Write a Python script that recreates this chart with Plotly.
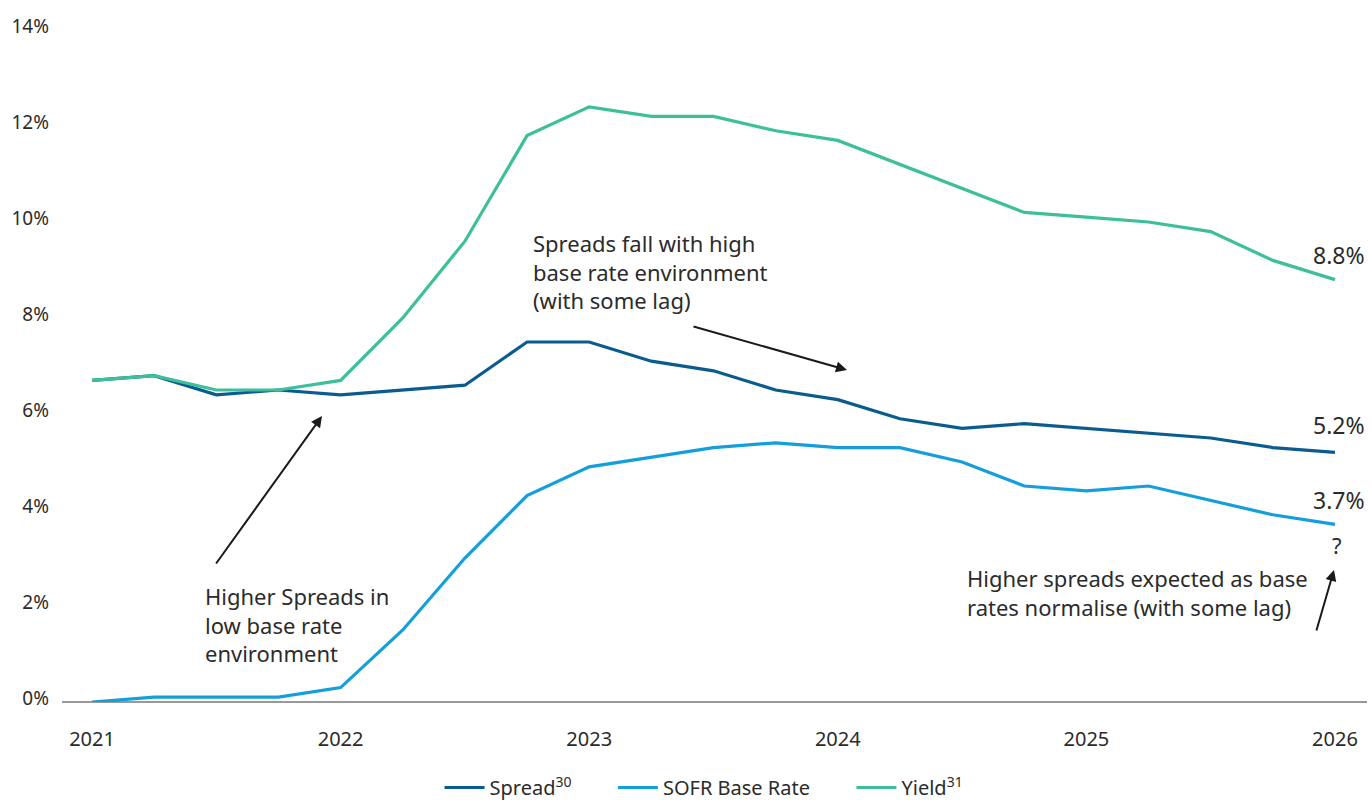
import plotly.graph_objects as go

# ---- data (quarterly, Q1 2021 .. Q1 2026) ----
quarters = list(range(21))
tick_positions = [0, 4, 8, 12, 16, 20]
tick_labels = ["2021", "2022", "2023", "2024", "2025", "2026"]

spread = [6.7, 6.8, 6.4, 6.5, 6.4, 6.5, 6.6, 7.5, 7.5, 7.1, 6.9, 6.5, 6.3, 5.9, 5.7, 5.8, 5.7, 5.6, 5.5, 5.3, 5.2]
sofr = [0.0, 0.1, 0.1, 0.1, 0.3, 1.5, 3.0, 4.3, 4.9, 5.1, 5.3, 5.4, 5.3, 5.3, 5.0, 4.5, 4.4, 4.5, 4.2, 3.9, 3.7]
yield_ = [6.7, 6.8, 6.5, 6.5, 6.7, 8.0, 9.6, 11.8, 12.4, 12.2, 12.2, 11.9, 11.7, 11.2, 10.7, 10.2, 10.1, 10.0, 9.8, 9.2, 8.8]

series_names = ["Spread<sup>30</sup>", "SOFR Base Rate", "Yield<sup>31</sup>"]
series_colors = ["#0B5C8E", "#149FDB", "#3DBF9A"]

FONT = "Noto Sans"
TXT = "#2b2b2b"
PAD = "\u00a0" * 7

fig = go.Figure()
for i, (name, vals, col) in enumerate(zip(series_names, [spread, sofr, yield_], series_colors)):
    label = name + (PAD if i < len(series_names) - 1 else "")
    fig.add_trace(go.Scatter(x=quarters, y=vals, mode="lines", name=label,
                             line=dict(color=col, width=3.2), hoverinfo="skip"))

# pixel -> data helpers for annotation placement
X0, DX = 92.0, 62.15
Y0, DY = 702.0, 48.0
def dx(px):
    return (px - X0) / DX
def dy(py):
    return (Y0 - py) / DY

ann = []
# end value labels
for vals, shift in [(yield_, 25), (spread, 27), (sofr, 24)]:
    ann.append(dict(x=quarters[-1], y=vals[-1], xref="x", yref="y", text=f"{vals[-1]:.1f}%",
                    showarrow=False, xanchor="center", yanchor="middle", xshift=4, yshift=shift,
                    font=dict(family=FONT, size=23, color=TXT)))
ann.append(dict(x=quarters[-1], y=dy(545), xref="x", yref="y", text="?", showarrow=False,
                xanchor="center", yanchor="middle", xshift=2, font=dict(family=FONT, size=22, color=TXT)))

# text annotations
ann.append(dict(x=dx(531), y=dy(226), xref="x", yref="y", align="left", xanchor="left", yanchor="top",
                text="Spreads fall with high<br>base rate environment<br>(with some lag)", showarrow=False,
                font=dict(family=FONT, size=22, color=TXT)))
ann.append(dict(x=dx(203), y=dy(579), xref="x", yref="y", align="left", xanchor="left", yanchor="top",
                text="Higher Spreads in<br>low base rate<br>environment", showarrow=False,
                font=dict(family=FONT, size=22, color=TXT)))
ann.append(dict(x=dx(965), y=dy(561), xref="x", yref="y", align="left", xanchor="left", yanchor="top",
                text="Higher spreads expected as base<br>rates normalise (with some lag)", showarrow=False,
                font=dict(family=FONT, size=22, color=TXT)))

# arrows
for (tx, ty, hx, hy) in [(692, 326, 847, 370), (215, 565, 322, 416), (1316, 632, 1334, 570)]:
    ann.append(dict(x=dx(hx), y=dy(hy), ax=dx(tx), ay=dy(ty), xref="x", yref="y", axref="x", ayref="y",
                    text="", showarrow=True, arrowhead=2, arrowsize=1.1, arrowwidth=2, arrowcolor="#1a1a1a"))

fig.update_layout(
    width=1372, height=807,
    margin=dict(l=62, r=5, t=30, b=105),
    paper_bgcolor="white", plot_bgcolor="white",
    font=dict(family=FONT, size=19, color=TXT),
    showlegend=True,
    legend=dict(orientation="h", x=0.492, xanchor="center", yref="container", y=-0.012, yanchor="bottom",
                font=dict(family=FONT, size=20, color=TXT), itemwidth=40, tracegroupgap=0),
    annotations=ann,
)
fig.update_xaxes(range=[-0.483, 20.515], tickvals=tick_positions, ticktext=tick_labels,
                 showgrid=False, zeroline=False, showline=False, ticks="",
                 ticklabelstandoff=23, tickfont=dict(family=FONT, size=20, color=TXT))
fig.update_yaxes(range=[0, 14], tickvals=[0, 2, 4, 6, 8, 10, 12, 14],
                 ticktext=[f"{v}%" for v in [0, 2, 4, 6, 8, 10, 12, 14]],
                 showgrid=False, zeroline=True, zerolinecolor="#999999", zerolinewidth=1.5,
                 showline=False, ticks="", ticklabelstandoff=12, ticklabelshift=-4,
                 tickfont=dict(family=FONT, size=19, color=TXT))

fig.write_html("out.html")
